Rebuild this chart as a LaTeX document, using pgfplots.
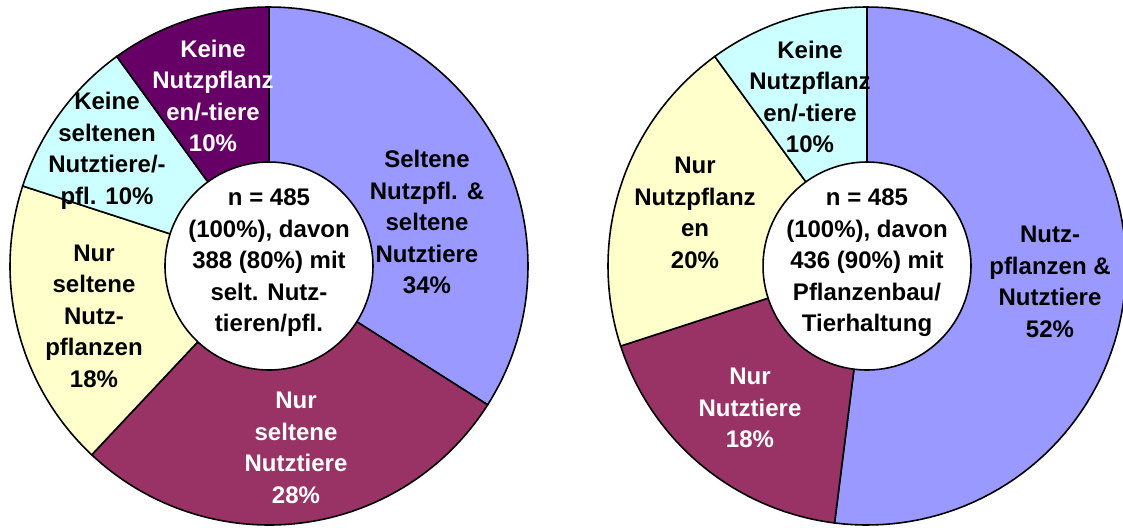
\documentclass[border=0pt]{standalone}
\usepackage{fontspec}
\setmainfont{Liberation Sans}
\usepackage{pgfplots}
\pgfplotsset{compat=1.18}
\definecolor{peri}{HTML}{9999FF}
\definecolor{maroonc}{HTML}{993366}
\definecolor{lyellow}{HTML}{FFFFCC}
\definecolor{lcyan}{HTML}{CCFFFF}
\definecolor{dpurple}{HTML}{660066}
\tikzset{lbl/.style={align=center, font=\fontsize{6.83}{8.96}\selectfont\bfseries, inner sep=0pt},
  slice/.style={draw=black, line width=0.45pt}}
\begin{document}
\begin{tikzpicture}
\begin{axis}[scale only axis, width=11.23cm, height=5.27cm,
  xmin=0, xmax=1123, ymin=0, ymax=527, hide axis, clip=true]
% ---- left donut: 34, 28, 18, 10, 10 % (clockwise from 12 o'clock)
\addplot[slice, samples=90, variable=\t, fill=peri,    domain=-32.4:90]     ({269+259*cos(\t)},{261+259*sin(\t)}) -- (axis cs:269,261) -- cycle;
\addplot[slice, samples=90, variable=\t, fill=maroonc, domain=-133.2:-32.4] ({269+259*cos(\t)},{261+259*sin(\t)}) -- (axis cs:269,261) -- cycle;
\addplot[slice, samples=90, variable=\t, fill=lyellow, domain=162:226.8]    ({269+259*cos(\t)},{261+259*sin(\t)}) -- (axis cs:269,261) -- cycle;
\addplot[slice, samples=90, variable=\t, fill=lcyan,   domain=126:162]      ({269+259*cos(\t)},{261+259*sin(\t)}) -- (axis cs:269,261) -- cycle;
\addplot[slice, samples=90, variable=\t, fill=dpurple, domain=90:126]       ({269+259*cos(\t)},{261+259*sin(\t)}) -- (axis cs:269,261) -- cycle;
\addplot[slice, samples=140, variable=\t, fill=white, domain=0:360] ({269+104*cos(\t)},{261+104*sin(\t)}) -- cycle;
% ---- right donut: 52, 18, 20, 10 %
\addplot[slice, samples=90, variable=\t, fill=peri,    domain=-97.2:90]     ({867+259*cos(\t)},{261+259*sin(\t)}) -- (axis cs:867,261) -- cycle;
\addplot[slice, samples=90, variable=\t, fill=maroonc, domain=198:262.8]    ({867+259*cos(\t)},{261+259*sin(\t)}) -- (axis cs:867,261) -- cycle;
\addplot[slice, samples=90, variable=\t, fill=lyellow, domain=126:198]      ({867+259*cos(\t)},{261+259*sin(\t)}) -- (axis cs:867,261) -- cycle;
\addplot[slice, samples=90, variable=\t, fill=lcyan,   domain=90:126]       ({867+259*cos(\t)},{261+259*sin(\t)}) -- (axis cs:867,261) -- cycle;
\addplot[slice, samples=140, variable=\t, fill=white, domain=0:360] ({867+104*cos(\t)},{261+104*sin(\t)}) -- cycle;
% ---- labels left
\node[lbl, text=white] at (axis cs:213,431) {Keine\\Nutzpflanz\\en/-tiere\\10\%};
\node[lbl] at (axis cs:107,376) {Keine\\seltenen\\Nutztiere/-\\pfl. 10\%};
\node[lbl] at (axis cs:427,305) {Seltene\\Nutzpfl. \&\\seltene\\Nutztiere\\34\%};
\node[lbl] at (axis cs:94,211) {Nur\\seltene\\Nutz-\\pflanzen\\18\%};
\node[lbl, text=white] at (axis cs:296,79) {Nur\\seltene\\Nutztiere\\28\%};
\node[lbl] at (axis cs:269,264) {n = 485\\(100\%), davon\\388 (80\%) mit\\selt. Nutz-\\tieren/pfl.};
% ---- labels right
\node[lbl] at (axis cs:810,430) {Keine\\Nutzpflanz\\en/-tiere\\10\%};
\node[lbl] at (axis cs:695,314) {Nur\\Nutzpflanz\\en\\20\%};
\node[lbl] at (axis cs:1050,245) {Nutz-\\pflanzen \&\\Nutztiere\\52\%};
\node[lbl, text=white] at (axis cs:750,119) {Nur\\Nutztiere\\18\%};
\node[lbl] at (axis cs:867,264) {n = 485\\(100\%), davon\\436 (90\%) mit\\Pflanzenbau/\\Tierhaltung};
\end{axis}
\pgfresetboundingbox
\path[use as bounding box] (current axis.south west) rectangle (current axis.north east);
\end{tikzpicture}
\end{document}
